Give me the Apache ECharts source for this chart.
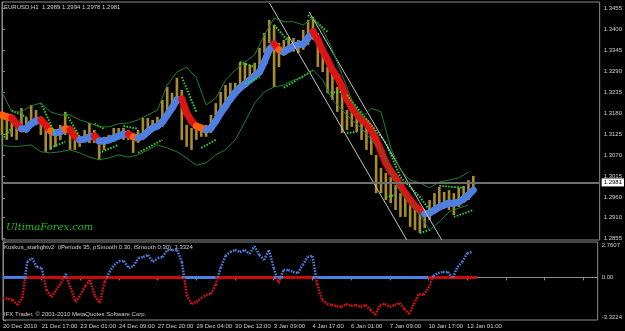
<!DOCTYPE html>
<html>
<head>
<meta charset="utf-8">
<script src="https://cdn.jsdelivr.net/npm/echarts@6/dist/echarts.min.js"></script>
<style>
html, body { margin: 0; padding: 0; background: #000; }
#chart { width: 625px; height: 331px; }
</style>
</head>
<body>
<div id="chart"></div>
<script>
// one data point = 4 hourly bars
var timeLabels = ['20 Dec 2010', '21 Dec 17:00', '23 Dec 01:00', '24 Dec 09:00', '27 Dec 20:00', '29 Dec 04:00',
	'30 Dec 12:00', '3 Jan 09:00', '4 Jan 17:00', '6 Jan 01:00', '7 Jan 09:00', '10 Jan 17:00', '12 Jan 01:00'];
var priceTicks = ['1.2855', '1.2910', '1.2960', '1.3015', '1.3070', '1.3125', '1.3180', '1.3235', '1.3290', '1.3345', '1.3400', '1.3455'];
var signalTicks = [-3.3224, 0, 2.7607];
var lastPrice = 1.2981;

var highs = [
	1.3184, 1.3179, 1.3176, 1.3155, 1.3194, 1.3171, 1.3202, 1.3189, 1.3171, 1.3158,
	1.3150, 1.3137, 1.3150, 1.3184, 1.3145, 1.3137, 1.3121, 1.3137, 1.3155, 1.3137,
	1.3119, 1.3119, 1.3124, 1.3142, 1.3142, 1.3142, 1.3137, 1.3129, 1.3137, 1.3168,
	1.3168, 1.3163, 1.3171, 1.3215, 1.3249, 1.3234, 1.3273, 1.3241, 1.3150, 1.3142,
	1.3145, 1.3150, 1.3150, 1.3176, 1.3207, 1.3236, 1.3254, 1.3260, 1.3260, 1.3314,
	1.3312, 1.3307, 1.3312, 1.3351, 1.3390, 1.3424, 1.3411, 1.3364, 1.3372, 1.3380,
	1.3377, 1.3372, 1.3398, 1.3424, 1.3432, 1.3390, 1.3338, 1.3301, 1.3286, 1.3249,
	1.3234, 1.3189, 1.3189, 1.3181, 1.3163, 1.3155, 1.3145, 1.3072, 1.3038, 1.3025,
	1.3014, 1.2993, 1.2972, 1.2962, 1.2941, 1.2936, 1.2936, 1.2928, 1.2954, 1.2972,
	1.2988, 1.2975, 1.2980, 1.2972, 1.2986, 1.2991, 1.3006, 1.3017
];
var lows = [
	1.3124, 1.3111, 1.3119, 1.3111, 1.3137, 1.3129, 1.3150, 1.3155, 1.3124, 1.3080,
	1.3085, 1.3093, 1.3111, 1.3124, 1.3085, 1.3085, 1.3093, 1.3111, 1.3103, 1.3103,
	1.3059, 1.3085, 1.3103, 1.3106, 1.3116, 1.3111, 1.3111, 1.3077, 1.3103, 1.3129,
	1.3137, 1.3137, 1.3142, 1.3145, 1.3184, 1.3197, 1.3215, 1.3111, 1.3093, 1.3085,
	1.3111, 1.3119, 1.3119, 1.3129, 1.3163, 1.3184, 1.3197, 1.3223, 1.3234, 1.3254,
	1.3267, 1.3275, 1.3281, 1.3301, 1.3338, 1.3364, 1.3249, 1.3301, 1.3333, 1.3341,
	1.3341, 1.3338, 1.3346, 1.3359, 1.3372, 1.3301, 1.3288, 1.3234, 1.3215, 1.3184,
	1.3129, 1.3137, 1.3145, 1.3132, 1.3111, 1.3085, 1.3072, 1.2972, 1.2972, 1.2954,
	1.2946, 1.2928, 1.2910, 1.2910, 1.2884, 1.2876, 1.2868, 1.2881, 1.2902, 1.2923,
	1.2936, 1.2936, 1.2928, 1.2915, 1.2936, 1.2946, 1.2954, 1.2972
];
var trendLine = [
	1.3176, 1.3171, 1.3168, 1.3153, 1.3140, 1.3140, 1.3153, 1.3160, 1.3163, 1.3150,
	1.3134, 1.3129, 1.3132, 1.3140, 1.3137, 1.3121, 1.3111, 1.3113, 1.3119, 1.3121,
	1.3108, 1.3108, 1.3111, 1.3116, 1.3121, 1.3126, 1.3126, 1.3119, 1.3116, 1.3121,
	1.3132, 1.3142, 1.3147, 1.3158, 1.3176, 1.3194, 1.3215, 1.3218, 1.3181, 1.3160,
	1.3147, 1.3142, 1.3137, 1.3142, 1.3160, 1.3181, 1.3199, 1.3218, 1.3234, 1.3247,
	1.3257, 1.3267, 1.3278, 1.3288, 1.3314, 1.3346, 1.3361, 1.3346, 1.3340, 1.3348,
	1.3356, 1.3359, 1.3361, 1.3377, 1.3393, 1.3372, 1.3343, 1.3320, 1.3293, 1.3275,
	1.3249, 1.3218, 1.3194, 1.3179, 1.3163, 1.3155, 1.3137, 1.3111, 1.3082, 1.3051,
	1.3030, 1.3012, 1.2991, 1.2972, 1.2954, 1.2939, 1.2928, 1.2918, 1.2920, 1.2928,
	1.2936, 1.2941, 1.2946, 1.2946, 1.2949, 1.2957, 1.2967, 1.2980
];
// envelopes, one value every 2 points
var upperBand = [
	1.3236, 1.3184, 1.3184, 1.3200, 1.3207, 1.3184, 1.3176, 1.3176, 1.3163, 1.3155,
	1.3145, 1.3145, 1.3153, 1.3155, 1.3163, 1.3176, 1.3189, 1.3254, 1.3288, 1.3301,
	1.3273, 1.3202, 1.3220, 1.3267, 1.3293, 1.3314, 1.3333, 1.3385, 1.3429, 1.3419,
	1.3419, 1.3411, 1.3429, 1.3398, 1.3346, 1.3281, 1.3215, 1.3168, 1.3194, 1.3184,
	1.3090, 1.3033, 1.3006, 1.2999, 1.2986, 1.3001, 1.3006, 1.3012, 1.3027
];
var lowerBand = [
	1.3098, 1.3093, 1.3095, 1.3098, 1.3080, 1.3077, 1.3080, 1.3085, 1.3077, 1.3066,
	1.3059, 1.3064, 1.3072, 1.3066, 1.3072, 1.3085, 1.3098, 1.3090, 1.3080, 1.3064,
	1.3045, 1.3051, 1.3072, 1.3085, 1.3111, 1.3158, 1.3207, 1.3236, 1.3249, 1.3254,
	1.3267, 1.3275, 1.3293, 1.3267, 1.3215, 1.3189, 1.3163, 1.3142, 1.3111, 1.3085,
	1.3027, 1.2976, 1.2950, 1.2916, 1.2876, 1.2897, 1.2923, 1.2933, 1.2941
];
// stop lines: [point, price] pieces
var upperStops = [
	[[2, 1.3187], [5, 1.3171]],
	[[8, 1.3207], [11, 1.3124]],
	[[13, 1.3184], [16, 1.3119]],
	[[19, 1.3153], [21, 1.3140]],
	[[25, 1.3147], [28, 1.3140]],
	[[37, 1.3275], [40, 1.3184]],
	[[49, 1.3314], [52, 1.3301]],
	[[56, 1.3411], [59, 1.3367]],
	[[63, 1.3437], [67, 1.3393]],
	[[71, 1.3228], [74, 1.3181], [79, 1.3103], [82, 1.3014], [86, 1.2962], [88, 1.2928]],
	[[90, 1.2991], [95, 1.2986]]
];
var lowerStops = [
	[[0, 1.3111], [2, 1.3142]],
	[[10, 1.3090], [13, 1.3106]],
	[[20, 1.3077], [24, 1.3098]],
	[[28, 1.3077], [33, 1.3111]],
	[[41, 1.3090], [44, 1.3111]],
	[[50, 1.3257], [53, 1.3275]],
	[[58, 1.3247], [64, 1.3293]],
	[[67, 1.3234], [70, 1.3236]],
	[[71, 1.3129], [73, 1.3132]],
	[[79, 1.2962], [81, 1.2967]],
	[[86, 1.2868], [88, 1.2876]],
	[[93, 1.2910], [97, 1.2928]]
];
var channel = [
	[[55.05, 1.3468], [83.3, 1.2850]],
	[[63.2, 1.3445], [90.5, 1.2850]]
];
var signal = [
	-1.61, -1.68, -1.76, -2.15, -1.61, 1.20, 1.51, 0.81, 0.73, -0.98,
	-1.53, -0.98, -0.44, 0.27, -0.83, -1.92, -1.37, -0.67, -0.20, -1.45,
	-2.00, -0.36, 0.42, 0.97, 1.28, 1.28, 0.73, 0.89, 1.51, 1.59,
	1.75, 1.20, 1.51, 1.59, 2.14, 2.14, 2.14, 1.20, -1.37, -2.07,
	-1.92, -1.61, -1.37, -1.29, -0.59, 0.73, 1.67, 1.98, 2.14, 1.98,
	2.14, 1.83, 2.45, 1.75, 1.36, 2.14, 0.73, -0.44, 0.58, 0.58,
	0.42, 0.34, 0.97, 1.59, 1.67, -0.51, -1.76, -2.07, -2.15, -2.23,
	-2.31, -2.07, -2.23, -2.15, -2.31, -2.15, -2.54, -2.93, -2.15, -2.07,
	-2.31, -2.15, -2.00, -2.46, -2.86, -2.07, -1.29, -1.37, -0.83, 0.11,
	0.34, 0.42, 0.42, -0.05, 0.81, 1.20, 1.90, 1.98
];
// zero line regime: [from, to, state]
var zeroRuns = [[0, 5, -1], [5, 37, 1], [37, 44, -1], [44, 56, 1], [56, 58, -1], [58, 64, 1], [64, 88, -1], [88, 98, 1]];

var BLUE = '#4f7fe0', RED = '#dc1414', ORANGE = '#ff5f0a';
var axisGrey = '#8c8c8c', textGrey = '#cfcfcf';
var font = 'Liberation Sans';

var barData = highs.map(function (h, i) { return [i, lows[i], h]; });
var trendData = [], signalData = [];
for (var i = 1; i < trendLine.length; i++) {
	trendData.push([i - 1, trendLine[i - 1], i, trendLine[i]]);
}
for (var j = 1; j < signal.length; j++) {
	signalData.push([j - 1, signal[j - 1], j, signal[j]]);
}

function seg(a, b, color, width, dash) {
	return {
		type: 'line', shape: { x1: a[0], y1: a[1], x2: b[0], y2: b[1] },
		style: { stroke: color, lineWidth: width, lineDash: dash || null, lineCap: dash ? 'butt' : 'round' }
	};
}

var chart = echarts.init(document.getElementById('chart'), null, { renderer: 'canvas' });
var option = {
	backgroundColor: '#000',
	animation: false,
	grid: [
		{ left: 2, top: 2, width: 600, height: 238, show: true, borderColor: axisGrey, borderWidth: 1, backgroundColor: '#000' },
		{ left: 2, top: 242, width: 600, height: 78, show: true, borderColor: axisGrey, borderWidth: 1, backgroundColor: '#000' }
	],
	xAxis: [{
		type: 'value', gridIndex: 0, min: 0, max: 123, interval: 8,
		axisLine: { show: false }, axisTick: { show: false }, axisLabel: { show: false }, splitLine: { show: false }
	}, {
		type: 'value', gridIndex: 1, min: 0, max: 123, interval: 8,
		axisLine: { show: true, lineStyle: { color: axisGrey } },
		axisTick: { show: true, length: 3, lineStyle: { color: axisGrey } },
		splitLine: { show: false },
		axisLabel: {
			color: textGrey, fontFamily: font, fontSize: 6, margin: 3, align: 'left',
			formatter: function (v) { return (v % 8 === 0 && timeLabels[v / 8]) || ''; }
		}
	}],
	yAxis: [{
		type: 'value', gridIndex: 0, position: 'right', min: 1.28498, max: 1.34707,
		axisLine: { show: true, lineStyle: { color: axisGrey } },
		axisTick: { show: true, length: 3, lineStyle: { color: axisGrey }, customValues: priceTicks.map(Number) },
		splitLine: { show: false },
		axisLabel: {
			color: textGrey, fontFamily: font, fontSize: 6, margin: 4,
			customValues: priceTicks.map(Number),
			formatter: function (v) { return v.toFixed(4); }
		}
	}, {
		type: 'value', gridIndex: 1, position: 'right', min: -3.3224, max: 2.7607,
		axisLine: { show: true, lineStyle: { color: axisGrey } },
		axisTick: { show: true, length: 3, lineStyle: { color: axisGrey }, customValues: signalTicks },
		splitLine: { show: false },
		axisLabel: {
			color: textGrey, fontFamily: font, fontSize: 6, margin: 4,
			customValues: signalTicks,
			verticalAlignMinLabel: 'bottom', verticalAlignMaxLabel: 'top',
			formatter: function (v) { return v === 0 ? '0.00' : v.toFixed(4); }
		}
	}],
	series: [
		{
			// envelopes
			type: 'line', name: 'upper', xAxisIndex: 0, yAxisIndex: 0, showSymbol: false, silent: true,
			data: upperBand.map(function (v, k) { return [k * 2, v]; }),
			lineStyle: { color: '#1f7f30', width: 1 },
			markLine: {
				silent: true, symbol: 'none',
				lineStyle: { color: '#707070', width: 2, type: 'solid' },
				label: {
					position: 'end', distance: 2, formatter: lastPrice.toFixed(4),
					backgroundColor: '#fff', color: '#000', fontFamily: font, fontSize: 6, padding: [1, 2]
				},
				data: [{ yAxis: lastPrice }]
			}
		},
		{
			type: 'line', name: 'lower', xAxisIndex: 0, yAxisIndex: 0, showSymbol: false, silent: true,
			data: lowerBand.map(function (v, k) { return [k * 2, v]; }),
			lineStyle: { color: '#1f7f30', width: 1 }
		},
		{
			// price bars
			type: 'custom', name: 'price', xAxisIndex: 0, yAxisIndex: 0, data: barData,
			encode: { x: 0, y: [1, 2] },
			renderItem: function (params, api) {
				var lo = api.coord([api.value(0), api.value(1)]);
				var hi = api.coord([api.value(0), api.value(2)]);
				return seg([lo[0], lo[1]], [hi[0], hi[1]], '#a88e2a', 2.6, [50, 0]);
			}
		},
		{
			// coloured trend band
			type: 'custom', name: 'trend', xAxisIndex: 0, yAxisIndex: 0, data: trendData,
			encode: { x: [0, 2], y: [1, 3] },
			renderItem: function (params, api) {
				var a = api.coord([api.value(0), api.value(1)]);
				var b = api.coord([api.value(2), api.value(3)]);
				var d = api.value(3) - api.value(1);
				var c = d >= 0 ? BLUE : (d > -0.0006 ? ORANGE : RED);
				return seg(a, b, c, 7);
			}
		},
		{
			type: 'lines', name: 'upperStops', coordinateSystem: 'cartesian2d', xAxisIndex: 0, yAxisIndex: 0,
			polyline: true, silent: true,
			data: upperStops.map(function (p) { return { coords: p }; }),
			lineStyle: { color: '#2fd82f', width: 2, type: [1.5, 1.5], opacity: 1 }
		},
		{
			type: 'lines', name: 'lowerStops', coordinateSystem: 'cartesian2d', xAxisIndex: 0, yAxisIndex: 0,
			polyline: true, silent: true,
			data: lowerStops.map(function (p) { return { coords: p }; }),
			lineStyle: { color: '#2fd82f', width: 2, type: [1.5, 1.5], opacity: 1 }
		},
		{
			type: 'lines', name: 'channel', coordinateSystem: 'cartesian2d', xAxisIndex: 0, yAxisIndex: 0,
			polyline: true, silent: true,
			data: channel.map(function (p) { return { coords: p }; }),
			lineStyle: { color: '#c4c4c4', width: 1, opacity: 1 }
		},
		{
			// zero line
			type: 'custom', name: 'zero', xAxisIndex: 1, yAxisIndex: 1, data: zeroRuns,
			encode: { x: [0, 1] },
			renderItem: function (params, api) {
				var a = api.coord([api.value(0), 0]);
				var b = api.coord([api.value(1), 0]);
				return seg(a, b, api.value(2) > 0 ? '#cc0a0a' : BLUE, 3, [50, 0]);
			}
		},
		{
			// signal dots, red below zero, blue above
			type: 'custom', name: 'signal', xAxisIndex: 1, yAxisIndex: 1, data: signalData,
			encode: { x: [0, 2], y: [1, 3] },
			renderItem: function (params, api) {
				var x0 = api.value(0), v0 = api.value(1), x1 = api.value(2), v1 = api.value(3);
				var a = api.coord([x0, v0]), b = api.coord([x1, v1]);
				var dash = [1.6, 1.3];
				if (v0 * v1 < 0) {
					var m = api.coord([x0 + v0 / (v0 - v1), 0]);
					return {
						type: 'group', children: [
							seg(a, m, v0 < 0 ? RED : BLUE, 2.5, dash),
							seg(m, b, v1 < 0 ? RED : BLUE, 2.5, dash)
						]
					};
				}
				return seg(a, b, (v0 + v1) < 0 ? RED : BLUE, 2.5, dash);
			}
		}
	],
	graphic: [
		{ type: 'text', left: 4, top: 4, style: { text: 'EURUSD,H1  1.2989 1.2994 1.2978 1.2981', fill: textGrey, font: '6px "Liberation Sans"' } },
		{ type: 'text', left: 6, top: 222, style: { text: 'UltimaForex.com', fill: '#1fbf1f', font: 'italic 10px "DejaVu Serif"' } },
		{ type: 'text', left: 4, top: 244, style: { text: 'Kuskus_starlightv2  (iPeriods 35, pSmooth 0.30, iSmooth 0.30)  1.3324', fill: textGrey, font: '6px "Liberation Sans"' } },
		{ type: 'text', left: 4, top: 311, style: { text: 'IFX Trader, \u00a9 2001-2010 MetaQuotes Software Corp.', fill: textGrey, font: '6px "Liberation Sans"' } }
	]
};
chart.setOption(option);
</script>
</body>
</html>
